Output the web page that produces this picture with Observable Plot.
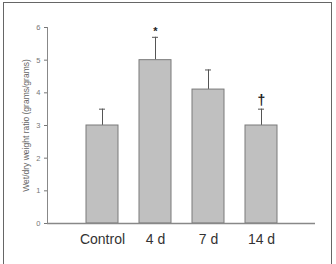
<!DOCTYPE html>
<html><head><meta charset="utf-8">
<script src="https://cdn.jsdelivr.net/npm/d3@7"></script>
<script src="https://cdn.jsdelivr.net/npm/@observablehq/plot@0.6"></script>
<style>
html,body{margin:0;padding:0;background:#fff;}
#wrap{position:relative;width:336px;height:264px;overflow:hidden;}
#frame{position:absolute;left:3px;top:2px;width:329px;height:300px;border:1px solid #666;box-sizing:border-box;pointer-events:none;}
svg{font-family:"Liberation Sans",Arial,sans-serif;}
</style></head><body>
<div id="wrap"><div id="frame"></div></div>
<script>
const groups = ["Control", "4 d", "7 d", "14 d"];
const means = [3.0, 5.0, 4.1, 3.0];
const errs = [3.5, 5.7, 4.7, 3.5];
const marks = ["", "*", "", "†"];
const yTicks = [0, 1, 2, 3, 4, 5, 6];
const yLabel = "Wet/dry weight ratio (grams/grams)";

const data = groups.map((g, i) => ({g, v: means[i], e: errs[i], m: marks[i]}));

const chart = Plot.plot({
  width: 336, height: 264,
  marginLeft: 47, marginRight: 21, marginTop: 27, marginBottom: 41,
  style: {fontFamily: '"Liberation Sans", Arial, sans-serif', background: "transparent"},
  x: {domain: groups, paddingInner: 0.4, paddingOuter: 0.71, label: null},
  y: {domain: [0, 6], label: null},
  marks: [
    Plot.ruleX(data, {x: "g", y1: "v", y2: "e", stroke: "#555", strokeWidth: 1}),
    Plot.tickY(data, {x: "g", y: "e", stroke: "#555", insetLeft: 13, insetRight: 13}),
    Plot.barY(data, {x: "g", y: "v", fill: "#c0c0c0", stroke: "#7a7a7a", strokeWidth: 1}),
    Plot.text(data.filter(d => d.m === "*"), {x: "g", y: "e", text: "m", dy: -6, fontSize: 11, fontWeight: "bold", fill: "#222"}),
    Plot.text(data.filter(d => d.m === "†"), {x: "g", y: "e", text: "m", dy: -9, fontSize: 14, fontWeight: "bold", fill: "#222"}),
    Plot.ruleY([0], {stroke: "#888", strokeWidth: 1.3}),
    Plot.frame({anchor: "left", stroke: "#888"}),
    Plot.axisY({ticks: yTicks, tickFormat: d3.format("d"), tickSize: 3, tickPadding: 4, fontSize: 7.5, color: "#777", label: null}),
    Plot.text([yLabel], {frameAnchor: "left", textAnchor: "middle", rotate: -90, dx: -21, fontSize: 8.5, fill: "#666"}),
    Plot.axisX({tickSize: 0, tickPadding: 11, fontSize: 14, color: "#333", label: null})
  ]
});
document.getElementById("wrap").prepend(chart);
</script>
</body></html>
